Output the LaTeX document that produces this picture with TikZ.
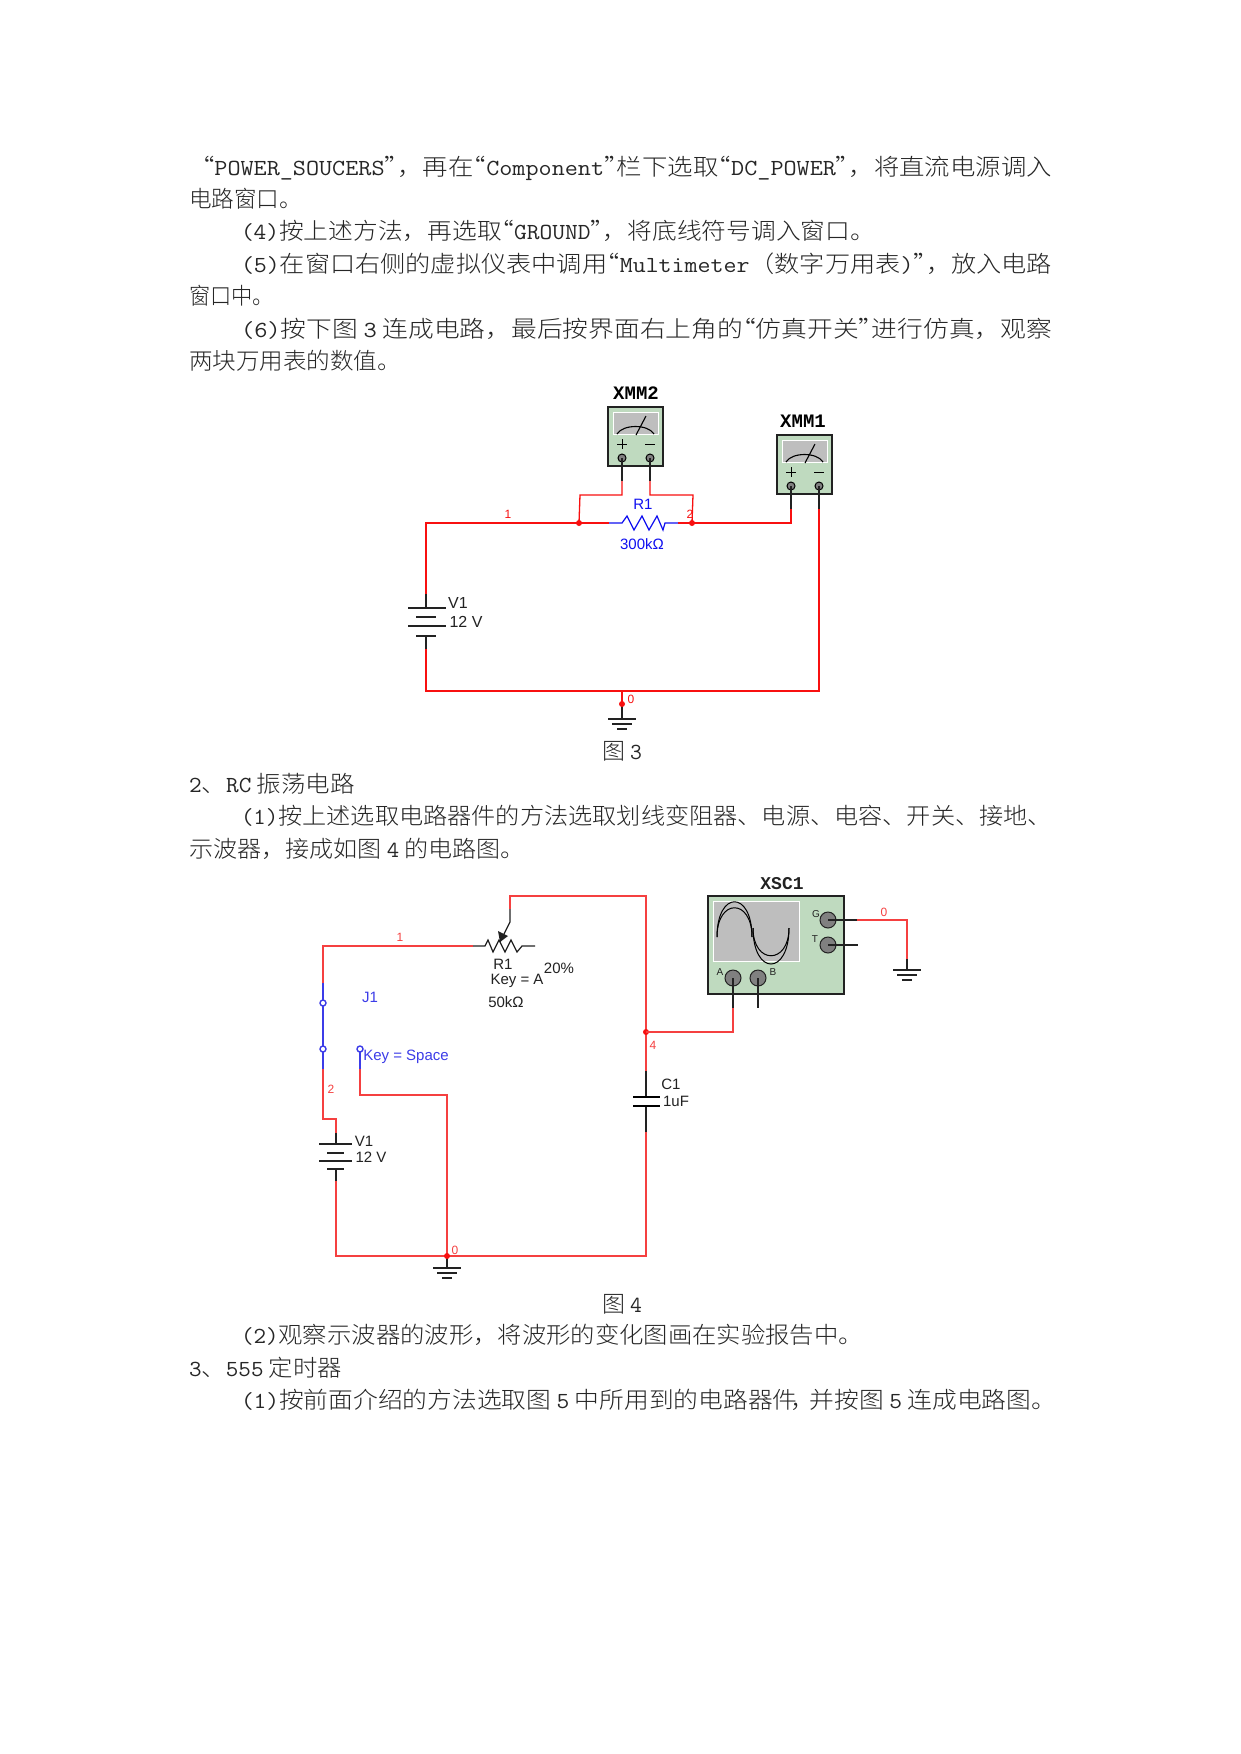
\documentclass[tikz,border=0pt]{standalone}
\usepackage{fontspec}
\usepackage{graphicx}
\setmainfont{Noto Sans CJK SC Light}
\newfontfamily\arial{Liberation Sans}
\newfontfamily\monob{Liberation Mono}[BoldFont=Liberation Mono Bold]
\newcommand{\Lt}[1]{{\ttfamily #1}}
\newcommand{\qo}{\kern-.5em“}
\newcommand{\qc}{”\kern-.5em}
\newcommand{\cm}{^^^^ff0c}
\newcommand{\lpar}{^^^^ff08}
\definecolor{wirer}{HTML}{F81010}
\definecolor{wirer2}{HTML}{F54040}
\definecolor{wireb}{HTML}{1010F0}
\definecolor{wireb2}{HTML}{3C3CE8}
\definecolor{blk}{HTML}{222222}
\definecolor{inst}{HTML}{BFDABF}
\definecolor{scrn}{HTML}{BEBEBE}
\definecolor{pinc}{HTML}{808080}
\tikzset{
  tl/.style={anchor=base west,inner sep=0pt,outer sep=0pt,font=\fontsize{23}{23}\selectfont,text=black!85},
  rw/.style={draw=wirer,line width=1.3pt,line join=miter},
  rw2/.style={draw=wirer2,line width=1.4pt,line join=miter},
  bw/.style={draw=wireb,line width=1.2pt},
  bw2/.style={draw=wireb2,line width=1.4pt},
  kw/.style={draw=blk,line width=1.2pt},
  plate/.style={draw=blk,line width=1.2pt},
  capplate/.style={draw=black,line width=2pt},
  jdot/.style={fill=wirer,draw=none},
  lab/.style={inner sep=0pt,font=\arial\fontsize{15}{15}\selectfont,text=blk},
  blab/.style={inner sep=0pt,font=\arial\fontsize{15}{15}\selectfont,text=wireb},
  blab2/.style={inner sep=0pt,font=\arial\fontsize{15}{15}\selectfont,text=wireb2},
  nlab/.style={inner sep=0pt,font=\arial\fontsize{12}{12}\selectfont,text=wirer},
  ttl/.style={inner sep=0pt,font=\monob\bfseries\fontsize{19}{19}\selectfont,text=black},
  meter/.pic={
    \draw[fill=inst,draw=blk,line width=1.3pt] (0,0) rectangle (55,59);
    \draw[fill=scrn,draw=white,line width=1pt] (5,5) rectangle (50,27);
    \draw[draw=black,line width=1.1pt] (9,27) .. controls (15,17) and (40,17) .. (46,27);
    \draw[draw=black,line width=1.1pt] (28,28) -- (38,9);
    \draw[draw=black,line width=1pt] (9,37) -- (19,37) (14,32) -- (14,42) (37,37) -- (47,37);
    \coordinate (-p) at (14,51);
    \coordinate (-m) at (42,51);
    \draw[fill=pinc,draw=black,line width=1pt] (14,51) circle[radius=4pt];
    \draw[fill=pinc,draw=black,line width=1pt] (42,51) circle[radius=4pt];
  },
  gnd/.pic={
    \draw[plate] (-14,0) -- (14,0) (-10,5) -- (10,5) (-5,10) -- (5,10);
  },
}
\begin{document}
\begin{tikzpicture}[x=1pt,y=-1pt]
\useasboundingbox[fill=white] (0,0) rectangle (1241,1754);

% body text
\node[tl] (t1) at (189,175) {\resizebox{863pt}{\height}{“\Lt{POWER\_SOUCERS}\qc\cm 再在\qo\Lt{Component}\qc 栏下选取\qo\Lt{DC\_POWER}\qc\cm 将直流电源调入}};
\node[tl] (t2) at (189,207) {\resizebox{113pt}{\height}{电路窗口。}};
\node[tl] (t3) at (241,239) {\resizebox{634pt}{\height}{\Lt{(4)}按上述方法\cm 再选取\qo\Lt{GROUND}\qc\cm 将底线符号调入窗口。}};
\node[tl] (t4) at (241,272) {\resizebox{811pt}{\height}{\Lt{(5)}在窗口右侧的虚拟仪表中调用\qo\Lt{Multimeter}\lpar 数字万用表\Lt{)}\qc\cm 放入电路}};
\node[tl] (t5) at (189,304) {\resizebox{85pt}{\height}{窗口中。}};
\node[tl] (t6) at (241,337) {\resizebox{811pt}{\height}{\Lt{(6)}按下图 \Lt{3} 连成电路\cm 最后按界面右上角的\qo 仿真开关\qc 进行仿真\cm 观察}};
\node[tl] (t7) at (189,369) {\resizebox{212pt}{\height}{两块万用表的数值。}};
\node[tl] (f3) at (602,759) {图 \Lt{3}};
\node[tl] (t8) at (189,792) {\resizebox{166pt}{\height}{\Lt{2}、\Lt{RC} 振荡电路}};
\node[tl] (t9) at (241,824) {\resizebox{811pt}{\height}{\Lt{(1)}按上述选取电路器件的方法选取划线变阻器、电源、电容、开关、接地、}};
\node[tl] (t10) at (189,857) {\resizebox{336pt}{\height}{示波器\cm 接成如图 \Lt{4} 的电路图。}};
\node[tl] (f4) at (602,1312) {图 \Lt{4}};
\node[tl] (t11) at (241,1343) {\resizebox{622pt}{\height}{\Lt{(2)}观察示波器的波形\cm 将波形的变化图画在实验报告中。}};
\node[tl] (t12) at (189,1376) {\resizebox{153pt}{\height}{\Lt{3}、\Lt{555} 定时器}};
\node[tl] (t13) at (241,1408) {\resizebox{815pt}{\height}{\Lt{(1)}按前面介绍的方法选取图 \Lt{5} 中所用到的电路器件\kern-.3em\cm\kern-.2em 并按图 \Lt{5} 连成电路图。}};

% ===== Figure 3 =====
\coordinate (bt1) at (426,594);
\coordinate (bb1) at (426,649);
\coordinate (tl1) at (426,523);
\coordinate (bl1) at (426,691);
\coordinate (br1) at (819,691);
\coordinate (jl) at (579,523);
\coordinate (jr) at (692,523);
\coordinate (rl) at (609,523);
\coordinate (rr) at (678,523);
\coordinate (gj) at (622,691);
\coordinate (gd) at (622,704);
\coordinate (gg1) at (622,719);
\pic (xmm2) at (608,407) {meter};
\pic (xmm1) at (777,435) {meter};
\coordinate (m2a) at (622,481);
\coordinate (m2b) at (650,481);
\coordinate (m1a) at (791,509);
\coordinate (m1b) at (819,509);
% leads
\draw[kw] (xmm2-p) -- (m2a);
\draw[kw] (xmm2-m) -- (m2b);
\draw[kw] (xmm1-p) -- (m1a);
\draw[kw] (xmm1-m) -- (m1b);
\draw[rw] (bt1) -- (tl1) -- (rl);
\draw[rw] (m1a) -- (791,523) -- (rr);
\draw[rw] (m2a) -- (622,495) -- (580,495) -- (jl);
\draw[rw] (m2b) -- (650,495) -- (693,495) -- (jr);
\draw[rw] (bb1) -- (bl1) -- (br1) -- (m1b);
\draw[rw] (gj) -- (gd);
\draw[kw] (gd) -- (gg1);
\pic at (gg1) {gnd};
\fill[jdot] (jl) circle[radius=3pt];
\fill[jdot] (jr) circle[radius=3pt];
\fill[jdot] (gd) circle[radius=3pt];
\draw[bw] (rl) -- (622,523) -- (627,516) -- (634,530) -- (642,516) -- (649,530) -- (657,516) -- (663,530) -- (665,523) -- (rr);
% battery
\draw[kw] (bt1) -- (426,608);
\draw[kw] (426,636) -- (bb1);
\draw[plate] (408,608) -- (446,608) (416,617) -- (436,617) (408,626) -- (446,626) (416,636) -- (436,636);
% labels
\node[ttl] (lxmm2) at (636,393) {XMM2};
\node[ttl] (lxmm1) at (803,421) {XMM1};
\node[blab] (lr1) at (643,504) {R1};
\node[blab] (lr1v) at (642,544) {300kΩ};
\node[nlab] (n1) at (508,514) {1};
\node[nlab] (n2) at (690,514) {2};
\node[lab,font=\arial\fontsize{16}{16}\selectfont] (lv1) at (458,603) {V1};
\node[lab,font=\arial\fontsize{16}{16}\selectfont] (lv1v) at (466,622) {12 V};
\node[nlab] (n0) at (631,699) {0};

% ===== Figure 4 =====
\coordinate (pt) at (510,896);
\coordinate (pk) at (510,909);
\coordinate (pb) at (510,922);
\coordinate (ptip) at (500,942);
\coordinate (jc) at (646,1032);
\coordinate (tr) at (646,896);
\coordinate (crt) at (646,1071);
\coordinate (crb) at (646,1132);
\coordinate (br2) at (646,1256);
\coordinate (gj2) at (447,1256);
\coordinate (bl2) at (336,1256);
\coordinate (bb2) at (336,1181);
\coordinate (bt2) at (336,1133);
\coordinate (tl2) at (323,946);
\coordinate (rl2) at (473,946);
\coordinate (rr2) at (535,946);
\coordinate (swt) at (323,983);
\coordinate (swb) at (323,1069);
\coordinate (swo) at (360,1069);
\coordinate (swk) at (360,1095);
\coordinate (swj) at (447,1095);
\coordinate (sw1) at (323,1003);
\coordinate (sw2) at (323,1049);
\coordinate (sw3) at (360,1049);
\draw[rw2] (pk) -- (pt) -- (tr) -- (crt);
\draw[draw=blk,line width=1.2pt] (pk) -- (pb) -- (ptip);
\fill[blk] (498,931) -- (508,936) -- (ptip) -- cycle;
\draw[rw2] (rl2) -- (tl2) -- (swt);
\draw[draw=blk,line width=1.2pt,line join=miter] (rl2) -- (485,946) -- (488,940) -- (493,952) -- (499,940) -- (505,952) -- (511,940) -- (517,952) -- (522,946) -- (rr2);
% switch
\draw[bw2] (swt) -- (sw1) (sw1) -- (sw2) (sw2) -- (swb);
\draw[bw2] (sw3) -- (swo);
\draw[bw2,fill=white] (sw1) circle[radius=3pt];
\draw[bw2,fill=white] (sw2) circle[radius=3pt];
\draw[bw2,fill=white] (sw3) circle[radius=3pt];
\draw[rw2] (swo) -- (swk) -- (swj) -- (gj2);
\draw[rw2] (swb) -- (323,1119) -- (336,1119) -- (bt2);
\draw[rw2] (bb2) -- (bl2) -- (br2) -- (crb);
% battery 2
\draw[kw] (bt2) -- (336,1144);
\draw[kw] (336,1169) -- (bb2);
\draw[plate] (319,1144) -- (352,1144) (327,1153) -- (344,1153) (319,1161) -- (352,1161) (327,1169) -- (344,1169);
% ground 2
\draw[kw] (gj2) -- (447,1268);
\pic at (447,1268) {gnd};
\fill[jdot] (gj2) circle[radius=3pt];
% capacitor
\draw[kw] (crt) -- (646,1097);
\draw[kw] (646,1106) -- (crb);
\draw[capplate] (633,1097) -- (660,1097) (633,1106) -- (660,1106);
\fill[jdot] (jc) circle[radius=3pt];
% scope
\draw[fill=inst,draw=blk,line width=1.3pt] (708,896) rectangle (844,994);
\draw[fill=scrn,draw=white,line width=1pt] (713,901) rectangle (799,961);
\draw[draw=black,line width=1pt] (717,937) .. controls (717,890) and (752,890) .. (752,937);
\draw[draw=black,line width=1pt] (717,937) .. controls (717,898) and (752,898) .. (752,937);
\draw[draw=black,line width=1pt] (753,928) .. controls (753,965) and (789,965) .. (789,928);
\draw[draw=black,line width=1pt] (753,928) .. controls (753,976) and (789,976) .. (789,928);
\coordinate (pa) at (733,978);
\coordinate (pbb) at (758,978);
\coordinate (pg) at (828,920);
\coordinate (pt2) at (828,945);
\coordinate (pae) at (733,1008);
\coordinate (pbe) at (758,1008);
\coordinate (pge) at (857,920);
\coordinate (pte) at (858,945);
\coordinate (gc) at (907,959);
\coordinate (gs) at (907,970);
\draw[fill=pinc,draw=blk,line width=1pt] (pa) circle[radius=8pt];
\draw[fill=pinc,draw=blk,line width=1pt] (pbb) circle[radius=8pt];
\draw[fill=pinc,draw=blk,line width=1pt] (pg) circle[radius=8pt];
\draw[fill=pinc,draw=blk,line width=1pt] (pt2) circle[radius=8pt];
\draw[kw] (pa) -- (pae);
\draw[kw] (pbb) -- (pbe);
\draw[kw] (pg) -- (pge);
\draw[kw] (pt2) -- (pte);
\draw[rw2] (jc) -- (733,1032) -- (pae);
\draw[rw2] (pge) -- (907,920) -- (gc);
\draw[kw] (gc) -- (gs);
\pic at (gs) {gnd};
% labels
\node[ttl,font=\monob\bfseries\fontsize{18}{18}\selectfont,text=blk] (lxsc) at (782,884) {XSC1};
\node[lab,font=\arial\fontsize{10}{10}\selectfont] (lg) at (816,914) {G};
\node[lab,font=\arial\fontsize{10}{10}\selectfont] (lt) at (815,939) {T};
\node[lab,font=\arial\fontsize{10}{10}\selectfont] (la) at (720,972) {A};
\node[lab,font=\arial\fontsize{10}{10}\selectfont] (lb) at (773,972) {B};
\node[nlab,text=wirer2] (m0) at (884,912) {0};
\node[nlab,text=wirer2] (m4) at (653,1045) {4};
\node[nlab,text=wirer2] (m1) at (400,937) {1};
\node[nlab,text=wirer2] (m2) at (331,1089) {2};
\node[nlab,text=wirer2] (m00) at (455,1250) {0};
\node[lab] (lc1) at (671,1084) {C1};
\node[lab] (lc1v) at (676,1101) {1uF};
\node[lab] (lr2) at (503,964) {R1};
\node[lab] (lrk) at (517,981) {Key = A};
\node[lab] (lrp) at (559,968) {20\%};
\node[lab] (lrv) at (506,1002) {50kΩ};
\node[blab2] (lj1) at (370,997) {J1};
\node[blab2] (ljk) at (406,1057) {Key = Space};
\node[lab] (lv2) at (364,1141) {V1};
\node[lab] (lv2v) at (371,1157) {12 V};
\end{tikzpicture}
\end{document}
